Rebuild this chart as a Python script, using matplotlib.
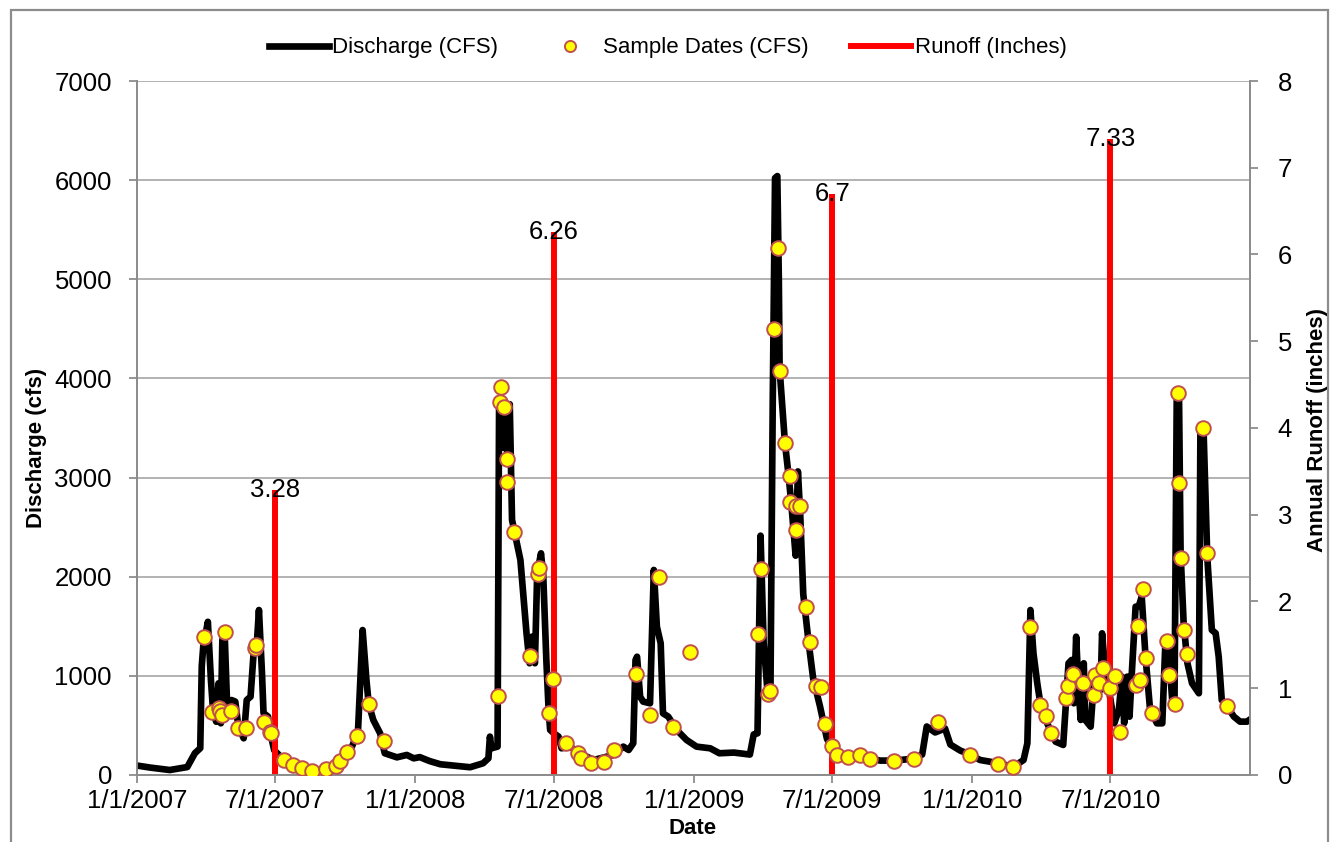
# Discharge, sample dates and annual runoff, 2007-2010
import pandas as pd
import matplotlib.pyplot as plt
from matplotlib.lines import Line2D
from matplotlib.patches import Rectangle
import matplotlib.dates as mdates

plt.rcParams['font.family'] = ['Liberation Sans', 'DejaVu Sans']

START = pd.Timestamp('2007-01-01')

# ------------------ DATA ------------------

# daily discharge trace (days since 1/1/2007, cfs)
flow_day = [1, 17, 43, 66, 76, 83, 85, 87, 93, 97, 100, 104, 107, 110, 112, 115,
            118, 121, 124, 129, 133, 140, 144, 149, 153, 157, 160, 164, 166, 172,
            175, 180, 193, 205, 217, 230, 248, 261, 266, 276, 282, 288, 290, 296,
            301, 304, 310, 319, 325, 341, 354, 363, 371, 384, 398, 437, 454, 461,
            463, 465, 473, 475, 478, 481, 483, 486, 489, 492, 498, 503, 511, 515,
            518, 522, 525, 530, 533, 537, 540, 542, 547, 553, 557, 568, 581, 599,
            625, 638, 645, 651, 654, 656, 660, 664, 673, 678, 682, 687, 690, 697,
            708, 721, 734, 752, 764, 783, 804, 809, 814, 818, 822, 827, 831, 834,
            837, 840, 842, 843, 846, 850, 855, 859, 864, 867, 870, 874, 881, 887,
            896, 905, 914, 922, 949, 975, 993, 1019, 1030, 1036, 1047, 1060, 1067,
            1080, 1093, 1106, 1119, 1150, 1163, 1168, 1172, 1176, 1181, 1185, 1194,
            1205, 1215, 1218, 1222, 1226, 1229, 1232, 1235, 1238, 1242, 1244, 1251,
            1256, 1260, 1264, 1266, 1270, 1275, 1282, 1288, 1292, 1295, 1299, 1302,
            1305, 1310, 1314, 1318, 1323, 1329, 1338, 1345, 1349, 1353, 1358, 1361,
            1364, 1367, 1369, 1373, 1378, 1384, 1393, 1395, 1399, 1404, 1410, 1415,
            1419, 1423, 1430, 1439, 1447, 1456, 1462]
flow_cfs = [94, 75, 50, 80, 220, 270, 1100, 1300, 1545, 960, 625, 537, 925, 521,
            1362, 1430, 756, 625, 756, 740, 487, 370, 756, 790, 1230, 1294, 1664,
            1025, 625, 588, 420, 250, 150, 100, 67, 44, 57, 91, 145, 229, 286, 397,
            454, 1462, 958, 716, 555, 420, 219, 178, 202, 168, 180, 140, 108, 78,
            118, 168, 387, 269, 286, 3715, 3750, 3300, 3700, 3200, 3740, 2572, 2353,
            2168, 1429, 1127, 1395, 1127, 2034, 2236, 2000, 1160, 656, 454, 420, 387,
            269, 286, 220, 151, 202, 286, 252, 320, 1160, 1193, 790, 740, 723, 2068,
            1496, 1328, 622, 588, 454, 353, 286, 269, 219, 226, 206, 409, 420, 2414,
            1341, 854, 854, 3772, 6021, 6041, 4988, 4095, 3772, 3349, 3006, 2678,
            2212, 3062, 2636, 1826, 1341, 975, 692, 368, 226, 206, 186, 145, 145,
            165, 206, 489, 429, 469, 307, 246, 206, 151, 134, 84, 151, 320, 1664,
            1227, 925, 723, 521, 336, 303, 656, 1127, 1160, 723, 1395, 891, 555,
            1127, 555, 487, 1026, 1059, 857, 1429, 1059, 857, 521, 656, 992, 521,
            992, 588, 1026, 1698, 1698, 1799, 1193, 656, 521, 521, 1328, 1295, 756,
            726, 3850, 3780, 2239, 1530, 1127, 925, 824, 3480, 3513, 2202, 1462,
            1430, 1193, 756, 689, 588, 538, 538, 570]

# sampling dates (days since 1/1/2007, cfs)
sample_day = [88, 99, 107, 109, 112, 115, 123, 132, 143, 155, 156, 167, 175, 176,
              193, 205, 217, 230, 248, 261, 266, 276, 288, 304, 324,
              473, 476, 478, 481, 485, 486, 495, 516, 526, 528, 540, 546, 563, 579,
              583, 596, 612, 626, 654, 673, 685, 703, 726,
              815, 819, 828, 831, 835, 841, 844, 850, 856, 857, 864, 865, 870, 877,
              883, 891, 897, 903, 912, 918, 933, 948, 961, 993, 1019, 1051, 1093,
              1130, 1149, 1171, 1184, 1193, 1199, 1219, 1221, 1228, 1241, 1255,
              1257, 1262, 1267, 1276, 1283, 1290, 1311, 1313, 1316, 1320, 1324,
              1332, 1351, 1354, 1362, 1366, 1367, 1369, 1374, 1377, 1398, 1403, 1430]
sample_cfs = [1395, 639, 672, 649, 605, 1439, 645, 477, 471, 1278, 1311, 538, 437, 423,
              151, 101, 67, 44, 57, 91, 145, 229, 397, 716, 343,
              800, 3765, 3910, 3715, 2952, 3187, 2454, 1200, 2024, 2085, 622, 965, 326,
              219, 175, 118, 134, 252, 1016, 605, 2000, 487, 1237,
              1422, 2078, 814, 847, 4501, 5320, 4075, 3347, 3014, 2750, 2710, 2475,
              2710, 1692, 1341, 895, 883, 518, 295, 206, 178, 198, 165, 145, 165, 530,
              202,
              108, 78, 1496, 706, 595, 427, 773, 898, 1016, 925, 807, 1009, 925, 1076,
              874, 999, 437, 908, 1503, 958, 1873, 1177, 622, 1355, 1009, 713, 3850,
              2942, 2185, 1462, 1217, 3497, 2236, 696]

# annual runoff (inches), plotted at the start of each water year
runoff_dates = ['2007-07-01', '2008-07-01', '2009-07-01', '2010-07-01']
runoff_in = [3.28, 6.26, 6.7, 7.33]
runoff_labels = ['3.28', '6.26', '6.7', '7.33']

flow_dates = START + pd.to_timedelta(flow_day, unit='D')
sample_dates = START + pd.to_timedelta(sample_day, unit='D')
runoff_dates = pd.to_datetime(runoff_dates)

# ------------------ VISUALIZATION ------------------

grey = '#8C8C8C'
fs = 18.5      # tick / data label size
fs_lab = 16    # legend and axis titles

fig = plt.figure(figsize=(13.35, 8.42), dpi=100)
fig.patches.append(Rectangle((0.0082, -0.05), 0.9866, 1.038, transform=fig.transFigure,
                             fill=False, edgecolor=grey, lw=1.6))

ax = fig.add_axes([0.1026, 0.0796, 0.8337, 0.8242])
ax.plot(flow_dates, flow_cfs, color='black', lw=4.8, solid_joinstyle='round',
        solid_capstyle='round', zorder=3)
ax.set_ylim(0, 7000)
ax.set_yticks(range(0, 7001, 1000))
ax.yaxis.grid(True, color='#A6A6A6', lw=1.2)
ax.set_axisbelow(True)
ax.set_xlim(START, pd.Timestamp('2010-12-31'))
ax.set_xticks(pd.date_range('2007-01-01', '2010-07-01', freq='6MS'))
ax.xaxis.set_major_formatter(mdates.DateFormatter('%-m/%-d/%Y'))

ax.spines['top'].set_visible(False)
for s in ['left', 'right', 'bottom']:
    ax.spines[s].set_color(grey)
    ax.spines[s].set_linewidth(1.3)
ax.tick_params(axis='y', length=6, width=1.3, color=grey, labelsize=fs, pad=12)
ax.tick_params(axis='x', length=6, width=1.3, color=grey, labelsize=fs, pad=4)

# Runoff on secondary axis
ax2 = ax.twinx()
ax2.vlines(runoff_dates, 0, runoff_in, color='#FF0000', lw=4.3, zorder=2)
ax2.set_ylim(0, 8)
ax2.set_yticks(range(0, 9))
ax2.tick_params(axis='y', length=6, width=1.3, color=grey, labelsize=fs, pad=14)
ax2.spines['top'].set_visible(False)
for s in ['left', 'right', 'bottom']:
    ax2.spines[s].set_color(grey)
    ax2.spines[s].set_linewidth(1.3)
for d, v, lab in zip(runoff_dates, runoff_in, runoff_labels):
    ax2.text(d, v, lab, ha='center', va='center', fontsize=fs, zorder=5)

# Sample points drawn on top of everything
ax3 = ax.twinx()
ax3.set_ylim(0, 7000)
ax3.axis('off')
ax3.plot(sample_dates, sample_cfs, linestyle='none', marker='o', markersize=10.5,
         markerfacecolor='#FFFF00', markeredgecolor='#C0504D', markeredgewidth=1.4)

fig.text(37 / 1335, 1 - 448 / 842, 'Discharge (cfs)', rotation=90, ha='center',
         va='center', fontsize=fs_lab, fontweight='bold')
fig.text(1318 / 1335, 1 - 430 / 842, 'Annual Runoff (inches)', rotation=90, ha='center',
         va='center', fontsize=fs_lab, fontweight='bold')
fig.text(693 / 1335, 1 - 828 / 842, 'Date', ha='center', va='center',
         fontsize=fs_lab, fontweight='bold')

handles = [Line2D([], [], color='black', lw=4.8),
           Line2D([], [], linestyle='none', marker='o', markersize=8,
                  markerfacecolor='#FFFF00', markeredgecolor='#C0504D', markeredgewidth=1.4),
           Line2D([], [], color='#FF0000', lw=4.3)]
fig.legend(handles, ['Discharge (CFS)', 'Sample Dates (CFS)', 'Runoff (Inches)'],
           loc='center', bbox_to_anchor=(0.5, 1 - 48 / 842), ncol=3, frameon=False,
           fontsize=fs_lab, handlelength=2.7, handletextpad=0.15, columnspacing=1.9)

plt.savefig('out.png', dpi=100)
plt.close()
